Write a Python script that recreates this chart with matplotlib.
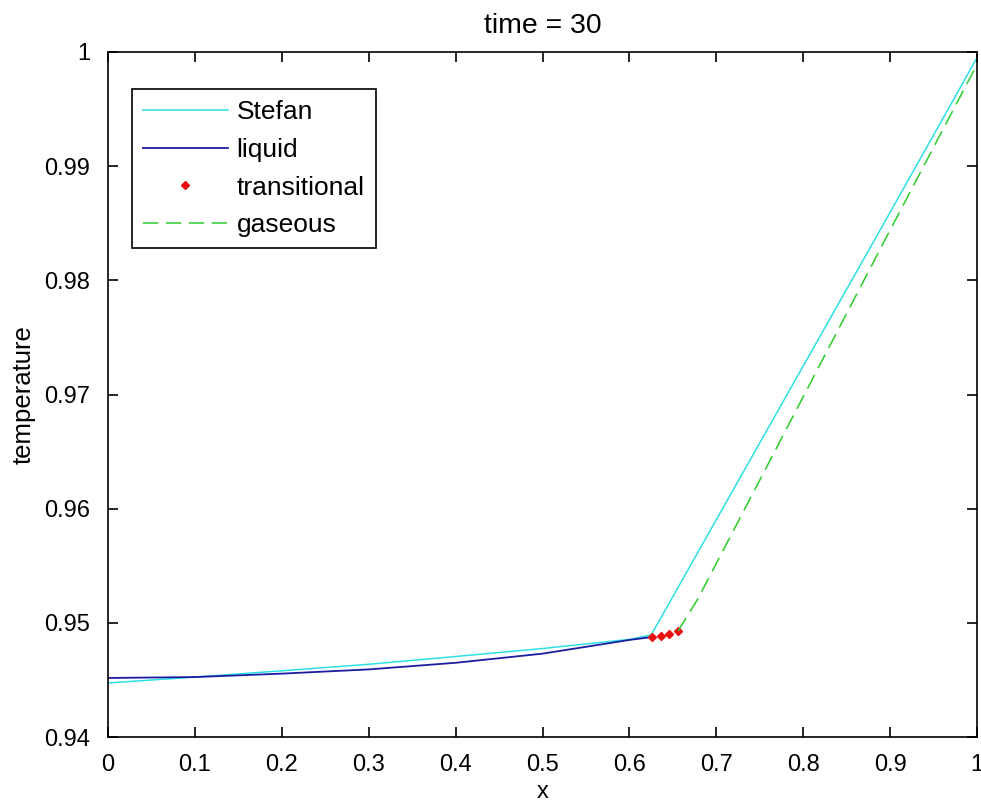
import matplotlib
matplotlib.use("Agg")
import matplotlib.pyplot as plt

# Werte (x, Temperatur)
stefan_x = [0.0, 0.1, 0.2, 0.3, 0.4, 0.5, 0.6, 0.625, 0.7, 0.8, 0.9, 1.0]
stefan_t = [0.94473, 0.94525, 0.94580, 0.94637, 0.94705, 0.94775, 0.94855,
            0.94893, 0.95903, 0.97249, 0.98595, 0.99950]

liquid_x = [0.0, 0.1, 0.2, 0.3, 0.4, 0.5, 0.6, 0.626]
liquid_t = [0.94517, 0.94525, 0.94555, 0.94592, 0.94650, 0.94730, 0.94850, 0.94876]

trans_x = [0.626, 0.636, 0.646, 0.656]
trans_t = [0.94876, 0.94885, 0.94905, 0.94928]

gas_x = [0.656, 0.678, 0.7, 0.8, 0.9, 1.0]
gas_t = [0.94928, 0.95200, 0.95520, 0.96980, 0.98440, 0.99890]

xticks = [0, 0.1, 0.2, 0.3, 0.4, 0.5, 0.6, 0.7, 0.8, 0.9, 1.0]
xtick_labels = ["0", "0.1", "0.2", "0.3", "0.4", "0.5", "0.6", "0.7", "0.8", "0.9", "1"]
yticks = [0.94, 0.95, 0.96, 0.97, 0.98, 0.99, 1.0]
ytick_labels = ["0.94", "0.95", "0.96", "0.97", "0.98", "0.99", "1"]

plt.rcParams["font.family"] = ["Liberation Sans", "DejaVu Sans"]
plt.rcParams["font.size"] = 17

fig = plt.figure(figsize=(9.81, 8.07), dpi=100)
ax = fig.add_axes([108 / 981, 70 / 807, 869 / 981, 685 / 807])

ax.plot(stefan_x, stefan_t, color="#2ee0e6", linewidth=1.1, label="Stefan")
ax.plot(liquid_x, liquid_t, color="#1c1ca0", linewidth=1.3, label="liquid")
ax.plot(trans_x, trans_t, linestyle="none", marker="D", markersize=4.5,
        color="#e81010", label="transitional")
ax.plot(gas_x, gas_t, color="#2ccc2c", linewidth=1.1, dashes=(10, 5),
        label="gaseous")

ax.set_xlim(0, 1)
ax.set_ylim(0.94, 1.0)
ax.set_xticks(xticks)
ax.set_xticklabels(xtick_labels)
ax.set_yticks(yticks)
ax.set_yticklabels(ytick_labels)
ax.tick_params(direction="in", length=7, width=1.2, top=True, right=True)
ax.tick_params(axis="x", pad=12.5)
ax.tick_params(axis="y", pad=13)
for spine in ax.spines.values():
    spine.set_linewidth(1.2)

ax.set_title("time = 30", pad=14)
ax.set_xlabel("x", labelpad=3, fontsize=17)
ax.set_ylabel("temperature", labelpad=6, fontsize=18.5)

leg = ax.legend(loc="upper left", bbox_to_anchor=(0.0276, 0.946),
                borderaxespad=0, fancybox=False, edgecolor="black",
                framealpha=1, handlelength=3.2, handletextpad=0.35,
                labelspacing=0.52, borderpad=0.42, fontsize=19)
leg.get_frame().set_linewidth(1.2)

fig.savefig("out.png", dpi=100)
